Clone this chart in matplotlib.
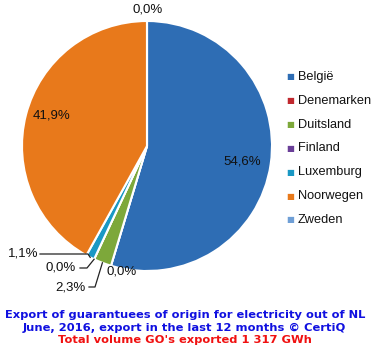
import numpy as np
import matplotlib.pyplot as plt

countries = ['België', 'Denemarken', 'Duitsland', 'Finland', 'Luxemburg', 'Noorwegen', 'Zweden']
shares = [54.6, 0.0, 2.3, 0.0, 1.1, 41.9, 0.0]
colors = ['#2E6DB4', '#C0282E', '#7DA83A', '#6A3F98', '#1A98C4', '#E8791B', '#6F9FD6']

W, H = 375, 351
cx, cy, R = 147, 146, 125

fig = plt.figure(figsize=(W / 100, H / 100), dpi=100)
ax = fig.add_axes([(cx - R) / W, (H - cy - R) / H, 2 * R / W, 2 * R / H])

wedges, _ = ax.pie(shares, colors=colors, startangle=90, counterclock=False,
                   radius=1, wedgeprops=dict(edgecolor='white', linewidth=1.5))
ax.set_xlim(-1, 1)
ax.set_ylim(-1, 1)
ax.set_aspect('equal')
ax.axis('off')


def px(x, y):
    # pixel position -> data coords of the pie axes
    return (x - cx) / R, (cy - y) / R


def lab(v):
    return f'{v:.1f}%'.replace('.', ',')


tfont = dict(fontsize=9.5, family='Liberation Sans', color='#111111')

# mid-angle of every wedge
angles = [np.deg2rad((w.theta1 + w.theta2) / 2) for w in wedges]

# labels inside big slices
ax.text(*px(242, 162), lab(shares[0]), ha='center', va='center', **tfont)
ax.text(*px(52, 116), lab(shares[5]), ha='center', va='center', **tfont)

# plain outside labels
ax.text(*px(148, 10), lab(shares[6]), ha='center', va='center', **tfont)
ax.text(*px(122, 272), lab(shares[1]), ha='center', va='center', **tfont)

# labels with leader lines: (index, text pos, line start, elbow)
leaders = [(4, (23, 254), (40, 254), (88, 254)),
           (3, (61, 268), (80, 268), (87, 268)),
           (2, (70, 287), (89, 287), (95, 287))]
for i, tpos, start, elbow in leaders:
    a = angles[i]
    anchor = (1.0 * np.cos(a), 1.0 * np.sin(a))
    p0, p1 = px(*start), px(*elbow)
    ax.plot([p0[0], p1[0], anchor[0]], [p0[1], p1[1], anchor[1]],
            color='#222222', lw=0.9, clip_on=False)
    ax.text(*px(*tpos), lab(shares[i]), ha='center', va='center', **tfont)

# legend
for k, (name, c) in enumerate(zip(countries, colors)):
    y = 77 + k * 23.8
    fig.text(286 / W, 1 - y / H, '\u25A0', color=c, fontsize=6, ha='left', va='center')
    fig.text(298 / W, 1 - y / H, name, color='#111111', fontsize=9.2,
             family='Liberation Sans', ha='left', va='center')

# bottom titles
fig.text(0.493, 1 - 315 / H, 'Export of guarantuees of origin for electricity out of NL',
         color='#1010E0', fontsize=8.25, fontweight='bold', ha='center', va='center')
fig.text(0.493, 1 - 328 / H, 'June, 2016, export in the last 12 months \u00a9 CertiQ',
         color='#1010E0', fontsize=8.25, fontweight='bold', ha='center', va='center')
fig.text(0.493, 1 - 340 / H, "Total volume GO's exported 1 317 GWh",
         color='#F01010', fontsize=8.25, fontweight='bold', ha='center', va='center')

fig.savefig('out.png', dpi=100)
